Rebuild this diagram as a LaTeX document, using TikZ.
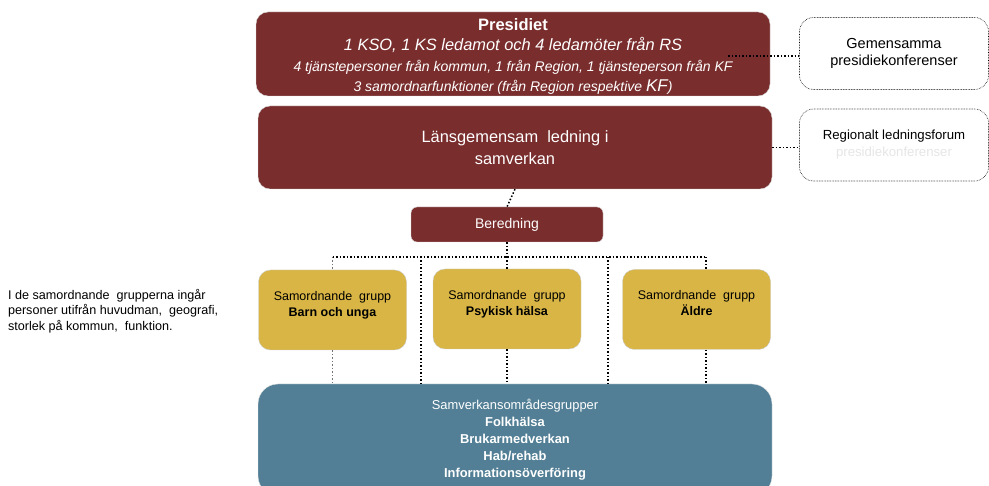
\documentclass[tikz,border=0pt]{standalone}
\usepackage{fontspec}
\setmainfont{Liberation Sans}
\definecolor{lanred}{HTML}{7A2D2D}
\definecolor{grpgold}{HTML}{D8B545}
\definecolor{samblue}{HTML}{527F95}
\begin{document}
\begin{tikzpicture}[x=1pt,y=-1pt,
  boxr/.style={rectangle, rounded corners=12pt, fill=lanred, draw=black!15, text=white, align=center, inner sep=0pt},
  boxy/.style={rectangle, rounded corners=12pt, fill=grpgold, draw=black!20, text=black, align=center, inner sep=0pt, minimum width=148pt, minimum height=80pt, text depth=13pt, font=\fontsize{12.5}{16}\selectfont},
  boxb/.style={rectangle, rounded corners=20pt, fill=samblue, draw=black!10, text=white, align=center, inner sep=0pt},
  boxw/.style={rectangle, rounded corners=14pt, draw, densely dotted, line width=0.6pt, align=center, inner sep=0pt, minimum width=189pt, minimum height=72pt},
  dotl/.style={dotted, line width=1.5pt}]
  \useasboundingbox (0,0) rectangle (989,486);

  \node[boxr, minimum width=514pt, minimum height=84pt, font=\fontsize{14}{20.5}\selectfont] (pres) at (513,54) {\rule{0pt}{17pt}{\fontsize{16.5}{20}\selectfont\bfseries Presidiet}\\
    {\fontsize{16.4}{20}\selectfont\itshape 1 KSO, 1 KS ledamot och 4 ledamöter från RS}\\
    {\itshape 4 tjänstepersoner från kommun, 1 från Region, 1 tjänsteperson från KF}\\
    {\itshape 3 samordnarfunktioner (från Region respektive {\fontsize{17}{20}\selectfont KF})}};
  \node[boxr, minimum width=514pt, minimum height=83pt, font=\fontsize{16.4}{22}\selectfont] (lans) at (515,147.5) {Länsgemensam\ \ ledning i\\samverkan};
  \node[boxr, minimum width=192pt, minimum height=35pt, rounded corners=6pt, font=\fontsize{14}{16}\selectfont] (ber) at (507,224.5) {Beredning};

  \node[boxw, font=\fontsize{14.5}{17}\selectfont] (gem) at (894,53.5) {Gemensamma\\presidiekonferenser};
  \node[boxw, font=\fontsize{13.2}{17}\selectfont] (reg) at (894,145) {Regionalt ledningsforum\\{\color{black!10}presidiekonferenser}};

  \node[boxy] (barn) at (332.5,310) {Samordnande\ \ grupp\\\textbf{Barn och unga}};
  \node[boxy] (psyk) at (507,309) {Samordnande\ \ grupp\\\textbf{Psykisk hälsa}};
  \node[boxy] (aldre) at (696.5,309.5) {Samordnande\ \ grupp\\\textbf{Äldre}};

  \node[boxb, minimum width=514pt, minimum height=112pt, font=\fontsize{12.9}{17}\selectfont] (samv) at (515,440) {Samverkansområdesgrupper\\\textbf{Folkhälsa}\\\textbf{Brukarmedverkan}\\\textbf{Hab/rehab}\\\textbf{Informationsöverföring}};

  \node[anchor=west, align=left, font=\fontsize{12.6}{15.5}\selectfont] (info) at (4.5,311) {I de samordnande\ \ grupperna ingår\\personer utifrån huvudman,\ \ geografi,\\storlek på kommun,\ \ funktion.};

  \coordinate (bl) at (332.5,257);
  \coordinate (br) at (706,257);
  \coordinate (c1) at (421,257);
  \coordinate (c2) at (608,257);
  \coordinate (pr) at (728,56);

    \draw[dotl] (pr) -- (gem.west |- pr);
    \draw[dotl] (lans.east) -- (reg.west |- lans.east);
    \draw[dotl] (lans.south) -- (ber.north);
    \draw[dotl] (ber.south) -- (ber.south |- bl);
    \draw[dotl] (bl) -- (br);
    \draw[dotl, black!55] (bl) -- (barn.north);
    \draw[dotl] (psyk.north |- bl) -- (psyk.north);
    \draw[dotl] (br) -- (br |- aldre.north);
    \draw[dotl] (c1) -- (c1 |- samv.north);
    \draw[dotl] (c2) -- (c2 |- samv.north);
    \draw[dotl, black!55] (barn.south) -- (barn.south |- samv.north);
    \draw[dotl] (psyk.south) -- (psyk.south |- samv.north);
    \draw[dotl] (br |- aldre.south) -- (br |- samv.north);

\end{tikzpicture}
\end{document}
